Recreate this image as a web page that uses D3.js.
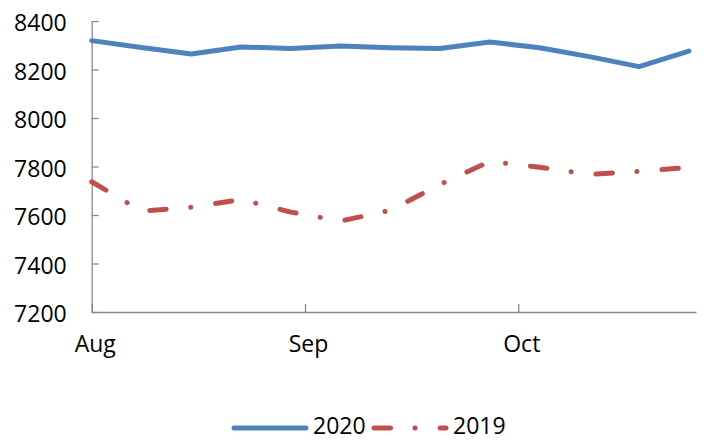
<!DOCTYPE html>
<html>
<head>
<meta charset="utf-8">
<script src="https://cdn.jsdelivr.net/npm/d3@7"></script>
<style>
  body { margin: 0; background: #fff; }
  svg text { font-family: "Open Sans", sans-serif; fill: #000; }
</style>
</head>
<body>
<div id="chart"></div>
<script>
// day index of each weekly reading, counted from 1 Aug
const days = [0, 7, 14, 21, 28, 35, 42, 49, 56, 63, 70, 77, 84];
const values2020 = [8319, 8291, 8264, 8293, 8287, 8297, 8290, 8287, 8313, 8290, 8253, 8212, 8276];
const values2019 = [7737, 7616, 7632, 7664, 7612, 7575, 7619, 7726, 7821, 7797, 7767, 7780, 7796];
const monthTicks = [0, 30, 60];
const monthLabels = ["Aug", "Sep", "Oct"];
const yTicks = [7200, 7400, 7600, 7800, 8000, 8200, 8400];
const seriesNames = ["2020", "2019"];

const W = 706, H = 441;
const margin = {top: 21, right: 10, bottom: 129, left: 91.7};
const width = 696 - margin.left,
      height = 312 - margin.top;

const blue = "#4f81bd", red = "#c0504d", axisGrey = "#8a8a8a";
const dashDot = "16.5,24.5,0.1,25";

const svg = d3.select("#chart")
  .append("svg")
    .attr("width", W)
    .attr("height", H);

const g = svg.append("g")
    .attr("transform", `translate(${margin.left}, ${margin.top})`);

const xScale = d3.scaleLinear()
  .domain([0, 85])
  .range([0, width]);

const yScale = d3.scaleLinear()
  .domain([7200, 8400])
  .range([height, 0]);

// y axis, ticks pointing inwards
const yAxis = g.append("g")
  .call(d3.axisLeft(yScale)
    .tickValues(yTicks)
    .tickSizeInner(-7)
    .tickSizeOuter(0)
    .tickPadding(25)
    .tickFormat(d3.format("d")));

yAxis.selectAll("text")
  .attr("dy", "0.43em")
  .style("font-size", "23px");

// x axis
const xAxis = g.append("g")
  .attr("transform", `translate(0, ${height})`)
  .call(d3.axisBottom(xScale)
    .tickValues(monthTicks)
    .tickSizeInner(-8)
    .tickSizeOuter(0)
    .tickFormat((d, i) => monthLabels[i]));

xAxis.selectAll("text")
  .attr("y", 40)
  .attr("dy", 0)
  .attr("dx", 3)
  .style("font-size", "23px");

[yAxis, xAxis].forEach(a => {
  a.select(".domain").attr("stroke", axisGrey).attr("stroke-width", 1.3);
  a.selectAll(".tick line").attr("stroke", axisGrey).attr("stroke-width", 1.3);
});

const line = d3.line()
  .x(d => xScale(d[0]))
  .y(d => yScale(d[1]));

g.append("path")
  .datum(d3.zip(days, values2019))
  .attr("d", line)
  .attr("fill", "none")
  .attr("stroke", red)
  .attr("stroke-width", 5)
  .attr("stroke-linecap", "round")
  .attr("stroke-linejoin", "round")
  .attr("stroke-dasharray", dashDot);

g.append("path")
  .datum(d3.zip(days, values2020))
  .attr("d", line)
  .attr("fill", "none")
  .attr("stroke", blue)
  .attr("stroke-width", 5)
  .attr("stroke-linecap", "round")
  .attr("stroke-linejoin", "round");

// legend
const legend = svg.append("g").attr("transform", "translate(0, 428)");
const legendItems = [
  {name: seriesNames[0], color: blue, dash: null, x: 234},
  {name: seriesNames[1], color: red, dash: dashDot, x: 374}
];

legendItems.forEach(item => {
  legend.append("line")
    .attr("x1", item.x)
    .attr("x2", item.x + 72)
    .attr("y1", 0)
    .attr("y2", 0)
    .attr("stroke", item.color)
    .attr("stroke-width", 5)
    .attr("stroke-linecap", "round")
    .attr("stroke-dasharray", item.dash);
  legend.append("text")
    .attr("x", item.x + 79)
    .attr("y", 6)
    .style("font-size", "23px")
    .text(item.name);
});
</script>
</body>
</html>
